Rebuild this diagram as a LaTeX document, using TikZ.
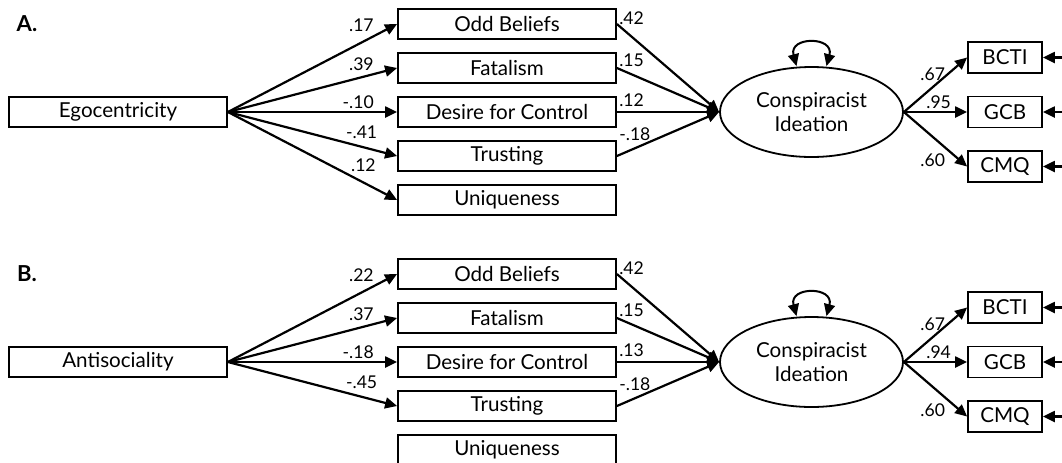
\documentclass[tikz,border=0pt]{standalone}
\usepackage{fontspec}
\setmainfont{Lato}
\usetikzlibrary{arrows.meta, shapes.geometric}
\tikzset{
    every node/.style={font=\fontsize{10.3pt}{12pt}\selectfont},
    varbox/.style={draw, line width=.9pt, minimum width=109pt,
        minimum height=15pt, inner sep=0pt},
    indbox/.style={draw, line width=.9pt, minimum width=37pt,
        minimum height=15.5pt, inner sep=0pt},
    latent/.style={draw, line width=.9pt, ellipse, minimum width=91.5pt,
        minimum height=45pt, inner sep=0pt, align=center},
    panel/.style={font=\fontsize{11pt}{12pt}\selectfont\bfseries},
    coef/.style={font=\fontsize{8.8pt}{10pt}\selectfont, inner sep=1pt},
    reg/.style={line width=1.1pt, -{Triangle[length=6pt, width=5.5pt]}},
    var/.style={line width=1pt, {Triangle[length=6pt, width=5.5pt]}-{Triangle[length=6pt, width=5.5pt]}},
}
\begin{document}
\begin{tikzpicture}[x=0.5pt, y=-0.5pt]
    \useasboundingbox (0,0) rectangle (1062,462);
    % both panels share the layout
    \foreach \p/\dy/\src/\lbl in {a/0/Egocentricity/A., b/250/Antisociality/B.}{
        \node[panel] (\p-lbl) at (27,{24+\dy}) {\lbl};
        \node[varbox] (\p-src) at (118,{112+\dy}) {\src};
        \foreach \m/\txt [count=\i] in {odd/Odd Beliefs, fat/Fatalism,
                des/Desire for Control, tru/Trusting, uni/Uniqueness}
            \node[varbox] (\p-\m) at (507,{-20+44*\i+\dy}) {\txt};
        \node[latent] (\p-ci) at (811.5,{112+\dy}) {Conspiracist\\Ideation};
        \draw[var] ([xshift=-7.5pt]\p-ci.north) .. controls +(-4pt,15pt)
            and +(4pt,15pt) .. ([xshift=7.5pt]\p-ci.north);
        \foreach \m/\txt/\y in {bcti/BCTI/57.5, gcb/GCB/112, cmq/CMQ/166.5}{
            \node[indbox] (\p-\m) at (1005,{\y+\dy}) {\txt};
            \coordinate (\p-\m-err) at (1080,{\y+\dy});
            \draw[reg] (\p-\m-err) -- (\p-\m);
        }
    }
    % A. egocentricity
    \foreach \m/\w/\q/\side in {odd/.17/.88/above left, fat/.39/.88/above left,
            des/-.10/.88/above left, tru/-.41/.68/above right, uni/.12/.71/above right}
        \draw[reg] (a-src.east) -- node[coef, pos=\q, \side] {\w} (a-\m.west);
    \foreach \m/\w/\s in {odd/.42/-1.5, fat/.15/-.5, des/.12/1.5, tru/-.18/6.5}{
        \draw[reg] (a-\m.east) -- (a-ci.west);
        \node[coef, anchor=south west] at ([yshift=\s pt]a-\m.east) {\w};
    }
    \draw[reg] (a-ci.east) -- node[coef, pos=.7, left] {.67} (a-bcti.west);
    \draw[reg] (a-ci.east) -- node[coef, pos=.55, above] {.95} (a-gcb.west);
    \draw[reg] (a-ci.east) -- node[coef, pos=.7, below left] {.60} (a-cmq.west);
    % B. antisociality
    \foreach \m/\w/\q/\side in {odd/.22/.88/above left, fat/.37/.88/above left,
            des/-.18/.88/above left, tru/-.45/.68/above right}
        \draw[reg] (b-src.east) -- node[coef, pos=\q, \side] {\w} (b-\m.west);
    \foreach \m/\w/\s in {odd/.42/-1.5, fat/.15/-.5, des/.13/1.5, tru/-.18/6.5}{
        \draw[reg] (b-\m.east) -- (b-ci.west);
        \node[coef, anchor=south west] at ([yshift=\s pt]b-\m.east) {\w};
    }
    \draw[reg] (b-ci.east) -- node[coef, pos=.7, left] {.67} (b-bcti.west);
    \draw[reg] (b-ci.east) -- node[coef, pos=.55, above] {.94} (b-gcb.west);
    \draw[reg] (b-ci.east) -- node[coef, pos=.7, below left] {.60} (b-cmq.west);
\end{tikzpicture}
\end{document}
